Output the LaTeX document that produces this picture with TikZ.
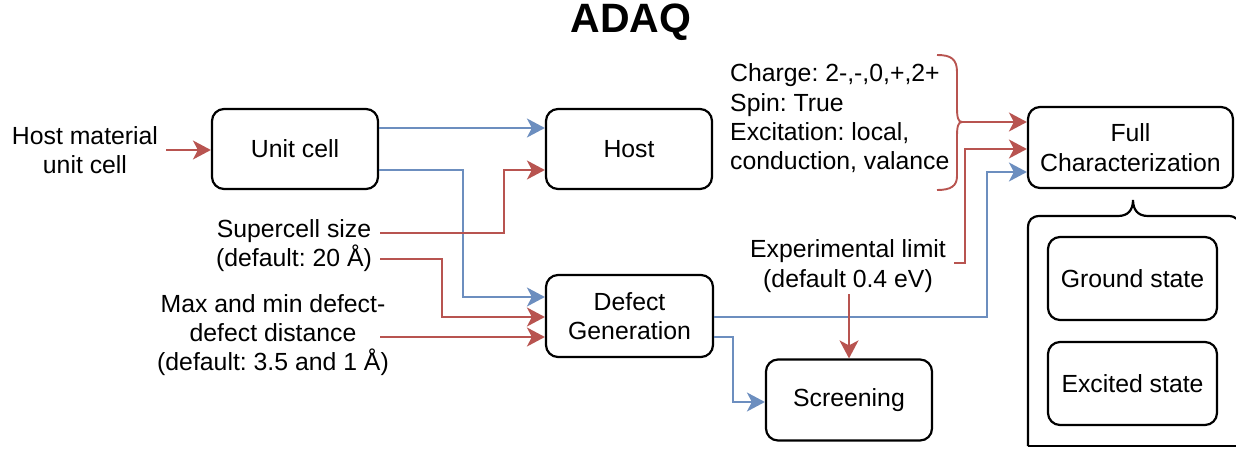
\documentclass[tikz,border=0pt]{standalone}
\usepackage{fontspec}
\setmainfont{Liberation Sans}
\usetikzlibrary{arrows.meta}
\definecolor{myred}{HTML}{B85450}
\definecolor{myblue}{HTML}{6C8EBF}
\frenchspacing
\begin{document}
\begin{tikzpicture}[x=1pt,y=-1pt,
  txt/.style={font=\fontsize{24.8}{29.4}\selectfont},
  box/.style={txt,draw=black,line width=2.2pt,rounded corners=12pt,minimum width=166pt,minimum height=80pt,align=center,inner sep=0pt},
  lbl/.style={txt,align=center,inner xsep=8pt,inner ysep=2pt},
  rl/.style={draw=myred,line width=1.9pt,-{Stealth[length=18pt,width=19pt,inset=5pt]}},
  bl/.style={draw=myblue,line width=1.9pt,-{Stealth[length=18pt,width=19pt,inset=5pt]}},
  rline/.style={draw=myred,line width=1.9pt},
  kline/.style={draw=black,line width=2.2pt}]
\useasboundingbox (0,0) rectangle (1236,449);
\clip (0,0) rectangle (1236,449);

% title
\node[font=\fontsize{41}{48}\selectfont\bfseries] (title) at (631,22) {ADAQ};

% boxes
\node[box] (unit) at (295,149) {Unit cell};
\node[box] (host) at (629,149) {Host};
\node[box,minimum width=167pt,minimum height=82pt] (defect) at (629.5,316) {Defect\\Generation};
\node[box,minimum height=81pt] (screen) at (849,400) {Screening};
\node[box,minimum width=205pt,minimum height=81pt] (full) at (1130.5,147.5) {Full\\Characterization};
\node[box,minimum width=169pt,minimum height=83pt] (ground) at (1132.5,278.5) {Ground state};
\node[box,minimum width=169pt,minimum height=83pt] (excited) at (1132.5,383.5) {Excited state};

% labels
\node[lbl] (hostmat) at (85,150) {Host material\\unit cell};
\node[lbl] (super) at (294,245.5) {Supercell size\\(default: 20 Å)};
\node[lbl] (maxmin) at (273,335) {Max and min defect-\\defect distance\\(default: 3.5 and 1 Å)};
\node[lbl] (exp) at (848,266) {Experimental limit\\(default 0.4 eV)};
\node[txt,align=left,anchor=west,inner sep=0pt] (charge) at (730,118.5) {Charge: 2-,-,0,+,2+\\Spin: True\\Excitation: local,\\conduction, valance};

\coordinate (maxminout) at (380,337);
\coordinate (bracetip) at (962,122);

% container with brace top
\draw[kline] (1028,446) -- (1028,228) .. controls (1028,220) and (1032,216) .. (1040,216)
  -- (1118,216) .. controls (1128,216) and (1133,210) .. (1133,200)
  .. controls (1133,210) and (1138,216) .. (1148,216)
  -- (1228,216) .. controls (1236,216) and (1240,220) .. (1240,228) -- (1240,460);
\draw[kline] (1028,446) -- (1245,446);

% red brace
\draw[rline] (937,55) .. controls (951,55) and (957,59) .. (957,72) -- (957,108)
  .. controls (957,117) and (958,122) .. (bracetip)
  .. controls (958,122) and (957,127) .. (957,136) -- (957,176)
  .. controls (957,186) and (951,190) .. (937,190);

% connectors
\draw[rl] (hostmat.east |- 0,150) -- (unit.west |- 0,150);
\draw[bl] (unit.east |- 0,128) -- (host.west |- 0,128);
\draw[bl] (unit.east |- 0,170) -- (463,170) -- (463,297) -- (defect.west |- 0,297);
\draw[rl] (super.east |- 0,233) -- (504,233) -- (504,170) -- (host.west |- 0,170);
\draw[rl] (super.east |- 0,259) -- (442,259) -- (442,317) -- (defect.west |- 0,317);
\draw[rl] (maxminout) -- (defect.west |- maxminout);
\draw[bl] (defect.east |- 0,337) -- (733,337) -- (733,402) -- (screen.west |- 0,402);
\draw[bl] (defect.east |- 0,317) -- (987,317) -- (987,172) -- (full.west |- 0,172);
\draw[rl] (exp.south -| screen.north) -- (screen.north);
\draw[rl] (exp.east |- 0,263) -- (965,263) -- (965,149) -- (full.west |- 0,149);
\draw[rl] (bracetip) -- (full.west |- bracetip);
\end{tikzpicture}
\end{document}
